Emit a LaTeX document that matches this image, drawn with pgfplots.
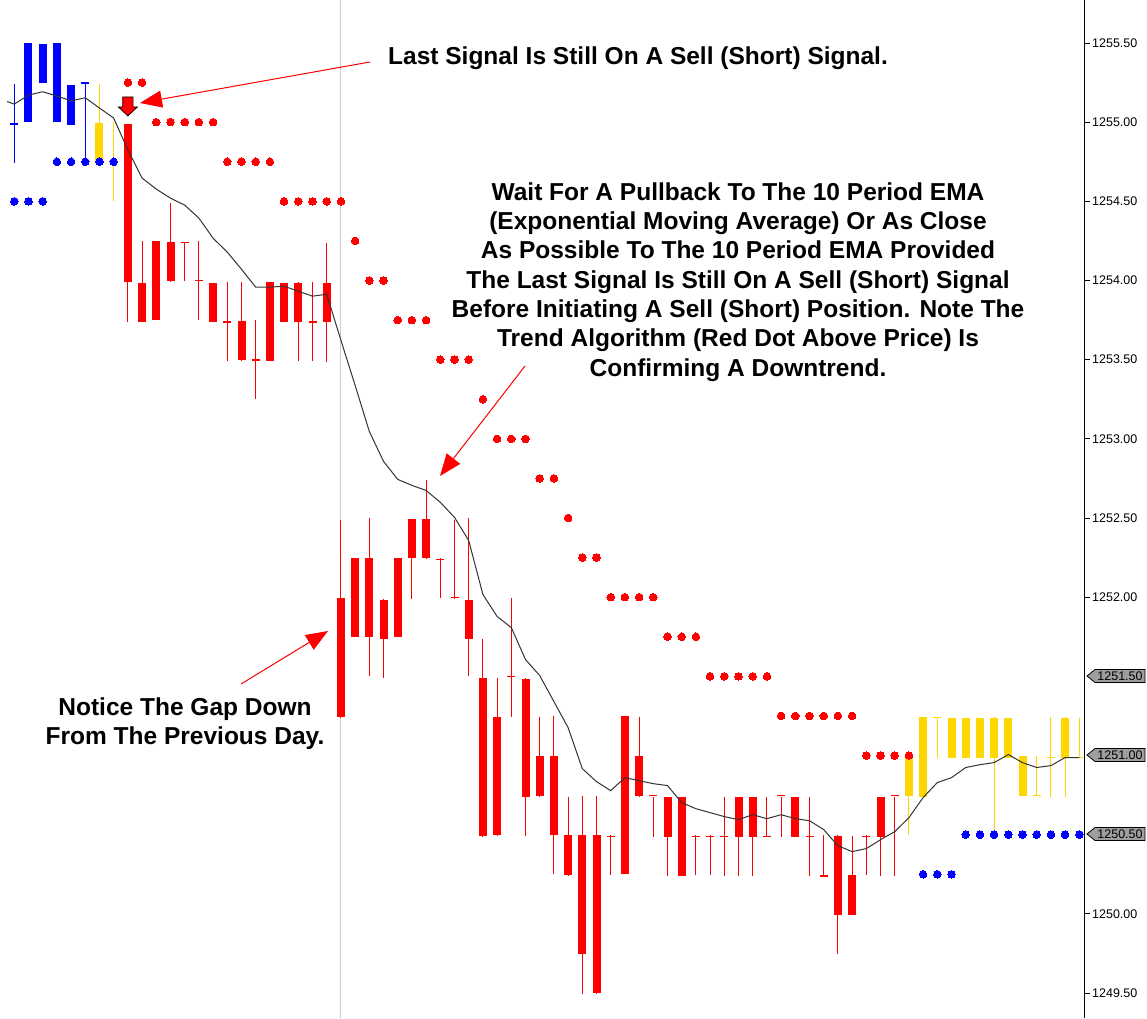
\documentclass[border=0pt]{standalone}
\usepackage{fontspec}
\setmainfont{Liberation Sans}
\usepackage{pgfplots}
\pgfplotsset{compat=1.18}
\usepackage{pgfplotstable}
\usetikzlibrary{arrows.meta}

\definecolor{cblue}{RGB}{0,0,255}
\definecolor{cred}{RGB}{255,0,0}
\definecolor{cgold}{RGB}{255,215,0}
\definecolor{tagfill}{RGB}{158,158,158}
\definecolor{sepgray}{RGB}{205,205,205}

\newcommand{\notefont}{\fontsize{24.5}{29.3}\selectfont\bfseries}
\newcommand{\tickfont}{\fontsize{12.5}{14}\selectfont}

% sell signal arrow above the bar
\pgfdeclareplotmark{sellarrow}{%
  \pgfpathmoveto{\pgfqpoint{-5.2pt}{9.5pt}}%
  \pgfpathlineto{\pgfqpoint{5.2pt}{9.5pt}}%
  \pgfpathlineto{\pgfqpoint{5.2pt}{-0.5pt}}%
  \pgfpathlineto{\pgfqpoint{9.5pt}{-0.5pt}}%
  \pgfpathlineto{\pgfqpoint{0pt}{-9.5pt}}%
  \pgfpathlineto{\pgfqpoint{-9.5pt}{-0.5pt}}%
  \pgfpathlineto{\pgfqpoint{-5.2pt}{-0.5pt}}%
  \pgfpathclose
  \pgfusepathqfillstroke}

\pgfplotsset{
  wick/.style={draw=none, forget plot,
    error bars/.cd, y dir=both, y explicit, error mark=none,
    error bar style={line width=1pt, draw=#1}},
  body/.style={draw=none, forget plot,
    error bars/.cd, y dir=both, y explicit, error mark=none,
    error bar style={line width=8pt, draw=#1}},
}

% i open high low close
\pgfplotstableread{
i o h l c
0 1255.00 1255.25 1254.75 1255.00
1 1255.00 1255.50 1255.00 1255.50
2 1255.25 1255.50 1255.25 1255.50
3 1255.00 1255.50 1255.00 1255.50
4 1255.00 1255.25 1255.00 1255.25
5 1255.25 1255.25 1254.75 1255.25
}\bluetab

\pgfplotstableread{
i o h l c
6 1255.00 1255.25 1254.75 1254.75
7 1254.75 1255.00 1254.50 1254.75
63 1251.00 1251.00 1250.50 1250.75
64 1251.25 1251.25 1250.75 1250.75
65 1251.25 1251.25 1251.00 1251.25
66 1251.25 1251.25 1251.00 1251.00
67 1251.25 1251.25 1251.00 1251.00
68 1251.25 1251.25 1251.00 1251.00
69 1251.25 1251.25 1250.50 1251.00
70 1251.25 1251.25 1251.00 1251.00
71 1251.00 1251.00 1250.75 1250.75
72 1250.75 1251.00 1250.75 1250.75
73 1251.00 1251.25 1250.75 1251.00
74 1251.25 1251.25 1250.75 1251.00
75 1251.00 1251.25 1251.00 1251.00
}\goldtab

\pgfplotstableread{
i o h l c
8 1255.00 1255.00 1253.75 1254.00
9 1254.00 1254.25 1253.75 1253.75
10 1254.25 1254.25 1253.75 1253.75
11 1254.25 1254.50 1254.00 1254.00
12 1254.25 1254.25 1254.00 1254.25
13 1254.00 1254.25 1253.75 1254.00
14 1254.00 1254.00 1253.75 1253.75
15 1253.75 1254.00 1253.50 1253.75
16 1253.75 1254.00 1253.50 1253.50
17 1253.50 1253.75 1253.25 1253.50
18 1254.00 1254.00 1253.50 1253.50
19 1254.00 1254.00 1253.75 1253.75
20 1254.00 1254.00 1253.50 1253.75
21 1253.75 1254.00 1253.50 1253.75
22 1254.00 1254.25 1253.50 1253.75
23 1252.00 1252.50 1251.25 1251.25
24 1252.25 1252.25 1251.75 1251.75
25 1252.25 1252.50 1251.50 1251.75
26 1252.00 1252.00 1251.50 1251.75
27 1252.25 1252.25 1251.75 1251.75
28 1252.50 1252.50 1252.00 1252.25
29 1252.50 1252.75 1252.25 1252.25
30 1252.25 1252.25 1252.00 1252.25
31 1252.00 1252.50 1252.00 1252.00
32 1252.00 1252.50 1251.50 1251.75
33 1251.50 1251.75 1250.50 1250.50
34 1251.25 1251.50 1250.50 1250.50
35 1251.50 1252.00 1251.25 1251.50
36 1251.50 1251.50 1250.50 1250.75
37 1251.00 1251.25 1250.75 1250.75
38 1251.00 1251.25 1250.25 1250.50
39 1250.50 1250.75 1250.25 1250.25
40 1250.50 1250.75 1249.50 1249.75
41 1250.50 1250.75 1249.50 1249.50
42 1250.50 1250.50 1250.25 1250.50
43 1251.25 1251.25 1250.25 1250.25
44 1251.00 1251.25 1250.75 1250.75
45 1250.75 1250.75 1250.50 1250.75
46 1250.75 1250.75 1250.25 1250.50
47 1250.75 1250.75 1250.25 1250.25
48 1250.50 1250.50 1250.25 1250.50
49 1250.50 1250.50 1250.25 1250.50
50 1250.50 1250.75 1250.25 1250.50
51 1250.75 1250.75 1250.25 1250.50
52 1250.75 1250.75 1250.25 1250.50
53 1250.50 1250.75 1250.50 1250.50
54 1250.75 1250.75 1250.50 1250.75
55 1250.75 1250.75 1250.50 1250.50
56 1250.50 1250.75 1250.25 1250.50
57 1250.25 1250.50 1250.25 1250.25
58 1250.50 1250.50 1249.75 1250.00
59 1250.25 1250.50 1250.00 1250.00
60 1250.50 1250.50 1250.25 1250.50
61 1250.75 1250.75 1250.25 1250.50
62 1250.75 1250.75 1250.25 1250.75
}\redtab

% 10 period EMA
\pgfplotstableread{
i v
-0.5 1255.13
0 1255.114
1 1255.171
2 1255.192
3 1255.165
4 1255.135
5 1255.154
6 1255.089
7 1255.026
8 1254.824
9 1254.647
10 1254.577
11 1254.520
12 1254.476
13 1254.394
14 1254.267
15 1254.179
16 1254.071
17 1253.958
18 1253.958
19 1253.964
20 1253.932
21 1253.901
22 1253.913
23 1253.623
24 1253.338
25 1253.047
26 1252.858
27 1252.744
28 1252.706
29 1252.674
30 1252.599
31 1252.504
32 1252.358
33 1252.017
34 1251.878
35 1251.808
36 1251.606
37 1251.505
38 1251.341
39 1251.176
40 1250.917
41 1250.835
42 1250.778
43 1250.860
44 1250.841
45 1250.822
46 1250.810
47 1250.702
48 1250.664
49 1250.639
50 1250.614
51 1250.595
52 1250.626
53 1250.601
54 1250.626
55 1250.601
56 1250.588
57 1250.532
58 1250.430
59 1250.393
60 1250.412
61 1250.468
62 1250.519
63 1250.607
64 1250.734
65 1250.829
66 1250.860
67 1250.924
68 1250.942
69 1250.955
70 1251.006
71 1250.955
72 1250.924
73 1250.936
74 1250.987
75 1250.987
}\ematab

% trend dots
\pgfplotstableread{
i v
8 1255.25
9 1255.25
10 1255.00
11 1255.00
12 1255.00
13 1255.00
14 1255.00
15 1254.75
16 1254.75
17 1254.75
18 1254.75
19 1254.50
20 1254.50
21 1254.50
22 1254.50
23 1254.50
24 1254.25
25 1254.00
26 1254.00
27 1253.75
28 1253.75
29 1253.75
30 1253.50
31 1253.50
32 1253.50
33 1253.25
34 1253.00
35 1253.00
36 1253.00
37 1252.75
38 1252.75
39 1252.50
40 1252.25
41 1252.25
42 1252.00
43 1252.00
44 1252.00
45 1252.00
46 1251.75
47 1251.75
48 1251.75
49 1251.50
50 1251.50
51 1251.50
52 1251.50
53 1251.50
54 1251.25
55 1251.25
56 1251.25
57 1251.25
58 1251.25
59 1251.25
60 1251.00
61 1251.00
62 1251.00
63 1251.00
}\reddots

\pgfplotstableread{
i v
0 1254.50
1 1254.50
2 1254.50
3 1254.75
4 1254.75
5 1254.75
6 1254.75
7 1254.75
64 1250.25
65 1250.25
66 1250.25
67 1250.50
68 1250.50
69 1250.50
70 1250.50
71 1250.50
72 1250.50
73 1250.50
74 1250.50
75 1250.50
}\bluedots

\begin{document}
\begin{tikzpicture}
\useasboundingbox (0,0) rectangle (1147pt,1018pt);
\begin{axis}[
  at={(0,0)}, anchor=south west,
  scale only axis, width=1085pt, height=1018pt,
  xmin=-1.007, xmax=75.40,
  ymin=1249.342, ymax=1255.772,
  axis x line=none, axis y line*=right,
  xtick=\empty,
  ytick={1249.5,1250,1252,1252.5,1253,1253.5,1254,1254.5,1255,1255.5},
  tick align=outside, major tick length=5pt,
  every tick/.style={black, line width=0.8pt},
  axis line style={black, line width=1pt},
  yticklabel style={font=\tickfont, inner sep=2pt,
    /pgf/number format/.cd, fixed, fixed zerofill, precision=2,
    1000 sep={}, assume math mode=true},
]
% day separator
\addplot[sepgray, line width=1pt, forget plot] coordinates {(23,1249.342) (23,1255.772)};

% candles
\addplot[wick=cblue] table[x=i, y expr={(\thisrow{h}+\thisrow{l})/2}, y error expr={(\thisrow{h}-\thisrow{l})/2}] \bluetab;
\addplot[body=cblue] table[x=i, y expr={(\thisrow{o}+\thisrow{c})/2}, y error expr={max(abs(\thisrow{o}-\thisrow{c})/2,0.0032)}] \bluetab;
\addplot[wick=cgold] table[x=i, y expr={(\thisrow{h}+\thisrow{l})/2}, y error expr={(\thisrow{h}-\thisrow{l})/2}] \goldtab;
\addplot[body=cgold] table[x=i, y expr={(\thisrow{o}+\thisrow{c})/2}, y error expr={max(abs(\thisrow{o}-\thisrow{c})/2,0.0032)}] \goldtab;
\addplot[wick=cred] table[x=i, y expr={(\thisrow{h}+\thisrow{l})/2}, y error expr={(\thisrow{h}-\thisrow{l})/2}] \redtab;
\addplot[body=cred] table[x=i, y expr={(\thisrow{o}+\thisrow{c})/2}, y error expr={max(abs(\thisrow{o}-\thisrow{c})/2,0.0032)}] \redtab;

% EMA
\addplot[black!80, line width=1pt] table[x=i, y=v] \ematab;

% trend dots
\addplot[only marks, mark=*, mark size=3.8pt, cred, mark options={line width=0pt}] table[x=i, y=v] \reddots;
\addplot[only marks, mark=*, mark size=3.8pt, cblue, mark options={line width=0pt}] table[x=i, y=v] \bluedots;

% sell signal
\addplot[only marks, mark=sellarrow, mark options={fill=cred, draw=black, line width=0.7pt}] coordinates {(8,1255.099)};
\end{axis}

\begin{scope}[x=1pt, y=-1pt, yshift=1018pt]
\node[font=\notefont] at (638,58) {Last Signal Is Still On A Sell (Short) Signal.};
\node[font=\notefont, align=center] at (738,282) {Wait For A Pullback To The 10 Period EMA\\(Exponential Moving Average) Or As Close\\As Possible To The 10 Period EMA Provided\\The Last Signal Is Still On A Sell (Short) Signal\\Before Initiating A Sell (Short) Position. Note The\\Trend Algorithm (Red Dot Above Price) Is\\Confirming A Downtrend.};
\node[font=\notefont, align=center] at (185,724) {Notice The Gap Down\\From The Previous Day.};

\draw[cred, line width=1pt, -{Triangle[length=22pt,width=17pt]}] (370,62) -- (140,103);
\draw[cred, line width=1pt, -{Triangle[length=22pt,width=17pt]}] (525,366) -- (440,476);
\draw[cred, line width=1pt, -{Triangle[length=22pt,width=17pt]}] (241,684) -- (328,631);

\foreach \yy/\tx in {676/1251.50, 755/1251.00, 834/1250.50} {
  \draw[fill=tagfill, line width=0.8pt] (1087,\yy) -- (1095,\yy-6.5) -- (1145,\yy-6.5) -- (1145,\yy+6.5) -- (1095,\yy+6.5) -- cycle;
  \node[font=\tickfont, inner sep=0pt] at (1120,\yy) {\tx};
}
\end{scope}
\end{tikzpicture}
\end{document}
